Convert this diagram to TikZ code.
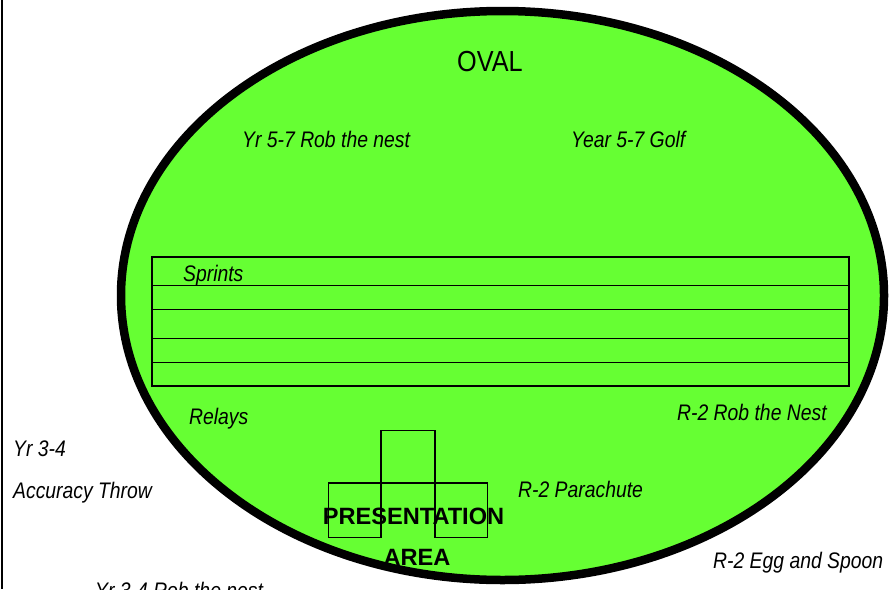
\documentclass[tikz,border=0pt]{standalone}
\usepackage{fontspec}
\setmainfont{Liberation Sans}
\newfontfamily\lblfont{Liberation Sans}[FakeStretch=0.86]
\newfontfamily\ovalfont{Liberation Sans}[FakeStretch=0.87]
\definecolor{ovalgreen}{HTML}{66FF33}
\begin{document}
\begin{tikzpicture}[x=1pt,y=-1pt,
  lbl/.style={anchor=base west,inner sep=0pt,font=\lblfont\itshape\fontsize{22.5}{25}\selectfont},
  pres/.style={anchor=base,inner sep=0pt,font=\bfseries\fontsize{23.6}{26}\selectfont},
  trackline/.style={draw=black,line width=1.2pt},
  padbox/.style={draw=black,line width=1.3pt}]
\useasboundingbox (0,0) rectangle (890,589);
\fill[white] (0,0) rectangle (890,589);
% left border
\draw[line width=2pt] (2,0) -- (2,589);
% oval
\draw[fill=ovalgreen,line width=8.5pt] (502.5,295.5) ellipse [x radius=381.5, y radius=284.5];
% track
\draw[trackline] (152,257) rectangle (849,386);
\foreach \yy in {285.3,309.3,338.3,362.3}{
  \draw[trackline] (152,\yy) -- (849,\yy);
}
% presentation area boxes
\draw[padbox] (381,430.5) rectangle (435,483);
\draw[padbox] (328.5,483) rectangle (381,537.5);
\draw[padbox] (435,483) rectangle (487.5,537.5);
% texts
\node[anchor=base west,inner sep=0pt,font=\ovalfont\fontsize{29}{31}\selectfont] (oval) at (457,71) {OVAL};
\node[lbl] (rob57) at (242,147) {Yr 5-7 Rob the nest};
\node[lbl] (golf) at (571,147) {Year 5-7 Golf};
\node[lbl] (sprints) at (183,281) {Sprints};
\node[lbl] (relays) at (189,424) {Relays};
\node[lbl] (rob2) at (677,420) {R-2 Rob the Nest};
\node[lbl] (yr34) at (13,456) {Yr 3-4};
\node[lbl] (acc) at (13,498) {Accuracy Throw};
\node[lbl] (para) at (518,497) {R-2 Parachute};
\node[lbl] (egg) at (713,568) {R-2 Egg and Spoon};
\node[lbl] (rob34) at (95,598) {Yr 3-4 Rob the nest};
\node[pres] (pres1) at (413.5,524) {PRESENTATION};
\node[pres] (pres2) at (417,565) {AREA};
\end{tikzpicture}
\end{document}
